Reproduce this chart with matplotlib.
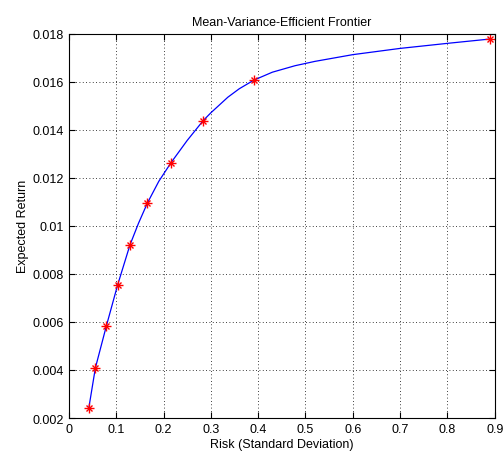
import matplotlib
matplotlib.use('Agg')
import matplotlib.pyplot as plt
from matplotlib.ticker import FuncFormatter

# frontier portfolios (marked with stars)
risk = [0.042, 0.056, 0.079, 0.103, 0.129, 0.166, 0.216, 0.284, 0.391, 0.890]
ret = [0.00241, 0.00409, 0.00582, 0.00754, 0.0092, 0.01095, 0.01263, 0.01438, 0.01606, 0.01777]

# points
curve_risk = [0.042, 0.056, 0.079, 0.103, 0.129, 0.147, 0.166, 0.19, 0.216, 0.25, 0.284,
              0.30, 0.336, 0.36, 0.391, 0.43, 0.478, 0.52, 0.6, 0.7, 0.8, 0.890]
curve_ret = [0.00241, 0.00409, 0.00582, 0.00754, 0.0092, 0.0101, 0.01095, 0.01185, 0.01263,
             0.01355, 0.01438, 0.01470, 0.01535, 0.01570, 0.01606, 0.01639, 0.01666, 0.01684,
             0.01712, 0.01738, 0.01759, 0.01777]

plt.rcParams['font.family'] = ['Liberation Sans', 'DejaVu Sans']
plt.rcParams['font.size'] = 9

fig = plt.figure(figsize=(5.03, 4.6), dpi=100)
ax = fig.add_axes([0.137, 0.089, 0.8465, 0.836])

ax.plot(curve_risk, curve_ret, color=(0, 0, 1), linewidth=0.9)
ax.plot(risk, ret, linestyle='none', marker='+', color='red', markersize=7, markeredgewidth=1.0)
ax.plot(risk, ret, linestyle='none', marker='x', color='red', markersize=4.5, markeredgewidth=1.0)

ax.set_xlim(0, 0.9)
ax.set_ylim(0.002, 0.018)
ax.set_xticks([i / 10 for i in range(10)])
ax.set_yticks([0.002 * i for i in range(1, 10)])
ax.xaxis.set_major_formatter(FuncFormatter(lambda v, p: '%g' % round(v, 3)))
ax.yaxis.set_major_formatter(FuncFormatter(lambda v, p: '%g' % round(v, 4)))
ax.tick_params(direction='in', top=True, right=True, length=4, width=0.8, labelsize=9)
ax.grid(True, color='black', linestyle=(0, (1, 3)), linewidth=0.6)
for s in ax.spines.values():
    s.set_linewidth(0.8)

ax.set_title('Mean-Variance-Efficient Frontier', fontsize=9)
ax.set_xlabel('Risk (Standard Deviation)', fontsize=9, labelpad=2)
ax.set_ylabel('Expected Return', fontsize=9, labelpad=3)

fig.savefig('out.png', dpi=100)
